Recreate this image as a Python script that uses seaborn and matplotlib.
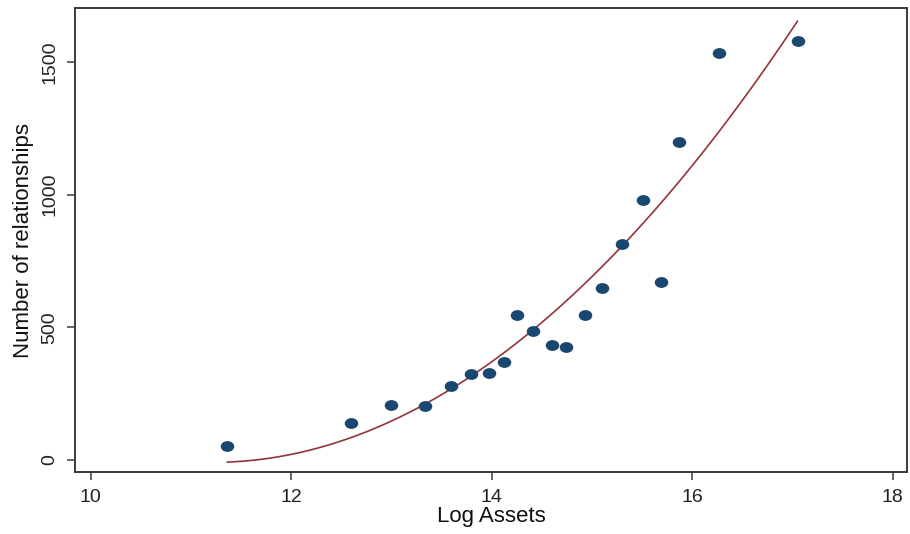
import numpy as np
import pandas as pd
import matplotlib
matplotlib.use("Agg")
import matplotlib.pyplot as plt
from matplotlib.path import Path
import seaborn as sns

log_assets = [11.36, 12.60, 13.00, 13.33, 13.59, 13.79, 13.97, 14.12, 14.25, 14.41,
              14.60, 14.74, 14.93, 15.10, 15.30, 15.51, 15.69, 15.87, 16.27, 17.05]
relationships = [53, 138, 207, 205, 280, 324, 327, 369, 548, 486,
                 435, 427, 547, 650, 815, 979, 670, 1200, 1534, 1578]
# fitted-curve values (quadratic fit line)
fit_x = [11.36, 11.96, 12.59, 13.32, 13.78, 14.41, 14.68, 15.30, 16.01, 16.34, 17.05]
fit_y = [-5, 18, 82, 204, 314, 484, 574, 823, 1118, 1269, 1652]
x_ticks = [10, 12, 14, 16, 18]
y_ticks = [0, 500, 1000, 1500]
x_label = "Log Assets"
y_label = "Number of relationships"

df = pd.DataFrame({"x": log_assets, "y": relationships})
fit_df = pd.DataFrame({"x": fit_x, "y": fit_y})

sns.set_theme(style="white")
plt.rcParams["font.family"] = ["Liberation Sans", "DejaVu Sans"]

fig = plt.figure(figsize=(9.1, 5.34), dpi=100)
ax = fig.add_axes([75 / 910, 1 - 472 / 534, (907 - 75) / 910, (472 - 8) / 534])

circ = Path.unit_circle()
ellipse = Path(circ.vertices * np.array([1.25, 1.0]), circ.codes)

sns.regplot(data=fit_df, x="x", y="y", order=2, ci=None, scatter=False, ax=ax,
            truncate=True, line_kws=dict(color="#93343c", lw=1.2))
sns.scatterplot(data=df, x="x", y="y", ax=ax, marker=ellipse, s=95,
                color="#1a476f", edgecolor="#1a476f", linewidth=0, zorder=3)

ax.set_xlim(9.843, 18.142)
ax.set_ylim(-45.2, 1703.7)
ax.set_xticks(x_ticks)
ax.set_yticks(y_ticks)
ax.set_xticklabels([str(t) for t in x_ticks], fontsize=14)
ax.set_yticklabels([str(t) for t in y_ticks], fontsize=14, rotation=90, va="center")
ax.set_xlabel(x_label, fontsize=16, labelpad=0, color="#111111")
ax.set_ylabel(y_label, fontsize=16, labelpad=5, color="#111111")

for sp in ax.spines.values():
    sp.set_visible(True)
    sp.set_color("#3a3a3a")
    sp.set_linewidth(1.4)
ax.tick_params(axis="both", which="major", direction="out", length=6, width=1.1,
               color="#3a3a3a", labelcolor="#222222", bottom=True, left=True)
ax.tick_params(axis="x", pad=6)
ax.tick_params(axis="y", pad=6)
ax.grid(False)

fig.savefig("out.png", dpi=100)
